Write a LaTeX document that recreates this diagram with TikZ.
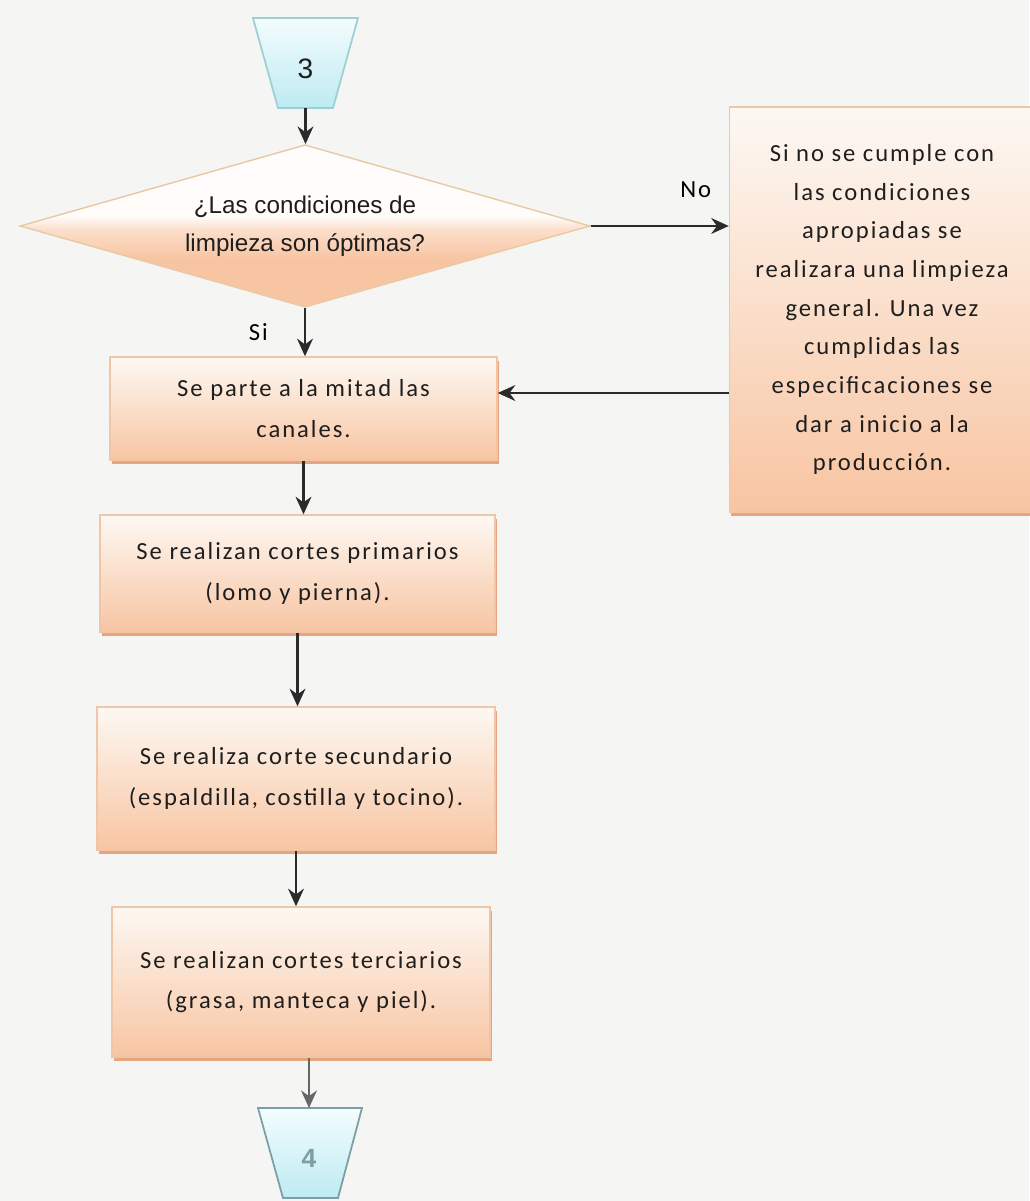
\documentclass[tikz,border=0pt]{standalone}
\usepackage{fontspec}
\setmainfont[LetterSpace=8]{Carlito}
\newfontfamily\arialfont{Liberation Sans}
\usepackage{tikz}
\usetikzlibrary{arrows.meta,positioning,shapes.geometric,shadows,calc}
\usepackage{xcolor}
\definecolor{pagebg}{HTML}{F5F5F3}
\definecolor{boxtop}{HTML}{FDF8F3}
\definecolor{boxbottom}{HTML}{F8C5A2}
\definecolor{boxborder}{HTML}{F0C6A8}
\definecolor{boxshadow}{HTML}{E9A47F}
\definecolor{decborder}{HTML}{E8C9A4}
\definecolor{arrowgray}{HTML}{2B2B2B}
\definecolor{conntop}{HTML}{F4FCFD}
\definecolor{connbottom}{HTML}{BDEBF2}
\definecolor{connborder}{HTML}{9CCFD6}
\definecolor{connfour}{HTML}{7D9EA4}
\definecolor{darktext}{HTML}{1E1E1E}
% white upper half, peach lower half (only the middle band shows on the wide diamond)
\pgfdeclareverticalshading{decshade}{100bp}{%
  color(0bp)=(boxbottom); color(40bp)=(boxbottom); color(49bp)=(boxbottom!55!white);
  color(53bp)=(white!94!boxbottom); color(100bp)=(white)}

\begin{document}
\begin{tikzpicture}[
  font=\fontsize{14}{23}\selectfont,
  >=Stealth,
  flow/.style={->, line width=1.4pt, draw=arrowgray, >={Stealth[length=10pt,width=9pt]}},
  stepbox/.style={
    draw=boxborder,
    top color=boxtop,
    bottom color=boxbottom,
    line width=0.8pt,
    inner sep=4pt,
    align=center,
    text=darktext,
    drop shadow={shadow xshift=1pt, shadow yshift=-2pt, fill=boxshadow, opacity=1}
  },
  offpage/.style={draw=connborder, line width=1pt, top color=conntop, bottom color=connbottom}
]

  % Page background and fixed size
  \fill[pagebg] (0,0) rectangle (20.58,-24.02);
  \useasboundingbox (0,0) rectangle (20.58,-24.02);

  % Off-page connector 3 (top)
  \draw[offpage] (5.06,-0.36) -- (7.16,-0.36) -- (6.66,-2.16) -- (5.56,-2.16) -- cycle;
  \node[font=\arialfont\fontsize{16}{18}\selectfont, text=darktext] (conn3) at (6.11,-1.38) {3};
  \coordinate (conn3out) at (6.11,-2.16);

  % Decision: cleaning conditions
  \node[diamond, aspect=3.5, draw=decborder, line width=0.8pt, shading=decshade,
        minimum width=11.4cm, minimum height=3.25cm, inner sep=0pt, align=center, text=darktext,
        font=\arialfont\fontsize{13.8}{21.5}\selectfont] (dec) at (6.1,-4.52)
    {¿Las condiciones de\\limpieza son óptimas?};

  % Side box: general cleaning (runs off the right edge)
  \node[stepbox, minimum width=6.1cm, minimum height=8.1cm, font=\fontsize{14}{22}\selectfont] (side) at (17.64,-6.19) {
    Si no se cumple con\\
    las condiciones\\
    apropiadas se\\
    realizara una limpieza\\
    general. Una vez\\
    cumplidas las\\
    especificaciones se\\
    dar a inicio a la\\
    producción.
  };

  % Main chain of steps
  \node[stepbox, minimum width=7.74cm, minimum height=2.06cm] (halves) at (6.07,-8.17)
    {Se parte a la mitad las\\canales.};
  \node[stepbox, minimum width=7.9cm, minimum height=2.34cm] (primary) at (5.95,-11.47)
    {Se realizan cortes primarios\\(lomo y pierna).};
  \node[stepbox, minimum width=7.96cm, minimum height=2.86cm] (secondary) at (5.92,-15.57)
    {Se realiza corte secundario\\(espaldilla, costilla y tocino).};
  \node[stepbox, minimum width=7.56cm, minimum height=3.0cm] (tertiary) at (6.02,-19.64)
    {Se realizan cortes terciarios\\(grasa, manteca y piel).};

  % Off-page connector 4 (bottom, cut by the page edge)
  \draw[offpage, draw=connfour] (5.16,-22.16) -- (7.24,-22.16) -- (6.76,-23.96) -- (5.66,-23.96) -- cycle;
  \node[font=\arialfont\bfseries\fontsize{15}{18}\selectfont, text=connfour] (conn4) at (6.18,-23.16) {4};
  \coordinate (conn4in) at (6.18,-22.16);

  % Connectors
  \draw[flow] (conn3out) -- (conn3out |- dec.north);
  \draw[flow] (dec.east) -- (dec.east -| side.west)
    node[pos=0.76, above=0.42cm] (nolabel) {No};
  \draw[flow] (dec.south) -- (dec.south |- halves.north)
    node[midway, left=0.6cm] (silabel) {Si};
  \draw[flow] (side.west |- 0,-7.86) -- (halves.east |- 0,-7.86);
  \draw[flow] (halves.south) -- (halves.south |- primary.north);
  \draw[flow] (primary.south) -- (primary.south |- secondary.north);
  \draw[flow] (secondary.south) -- (secondary.south |- tertiary.north);
  \draw[flow, draw=gray!80!black] (tertiary.south -| conn4in) -- (conn4in);

\end{tikzpicture}
\end{document}
